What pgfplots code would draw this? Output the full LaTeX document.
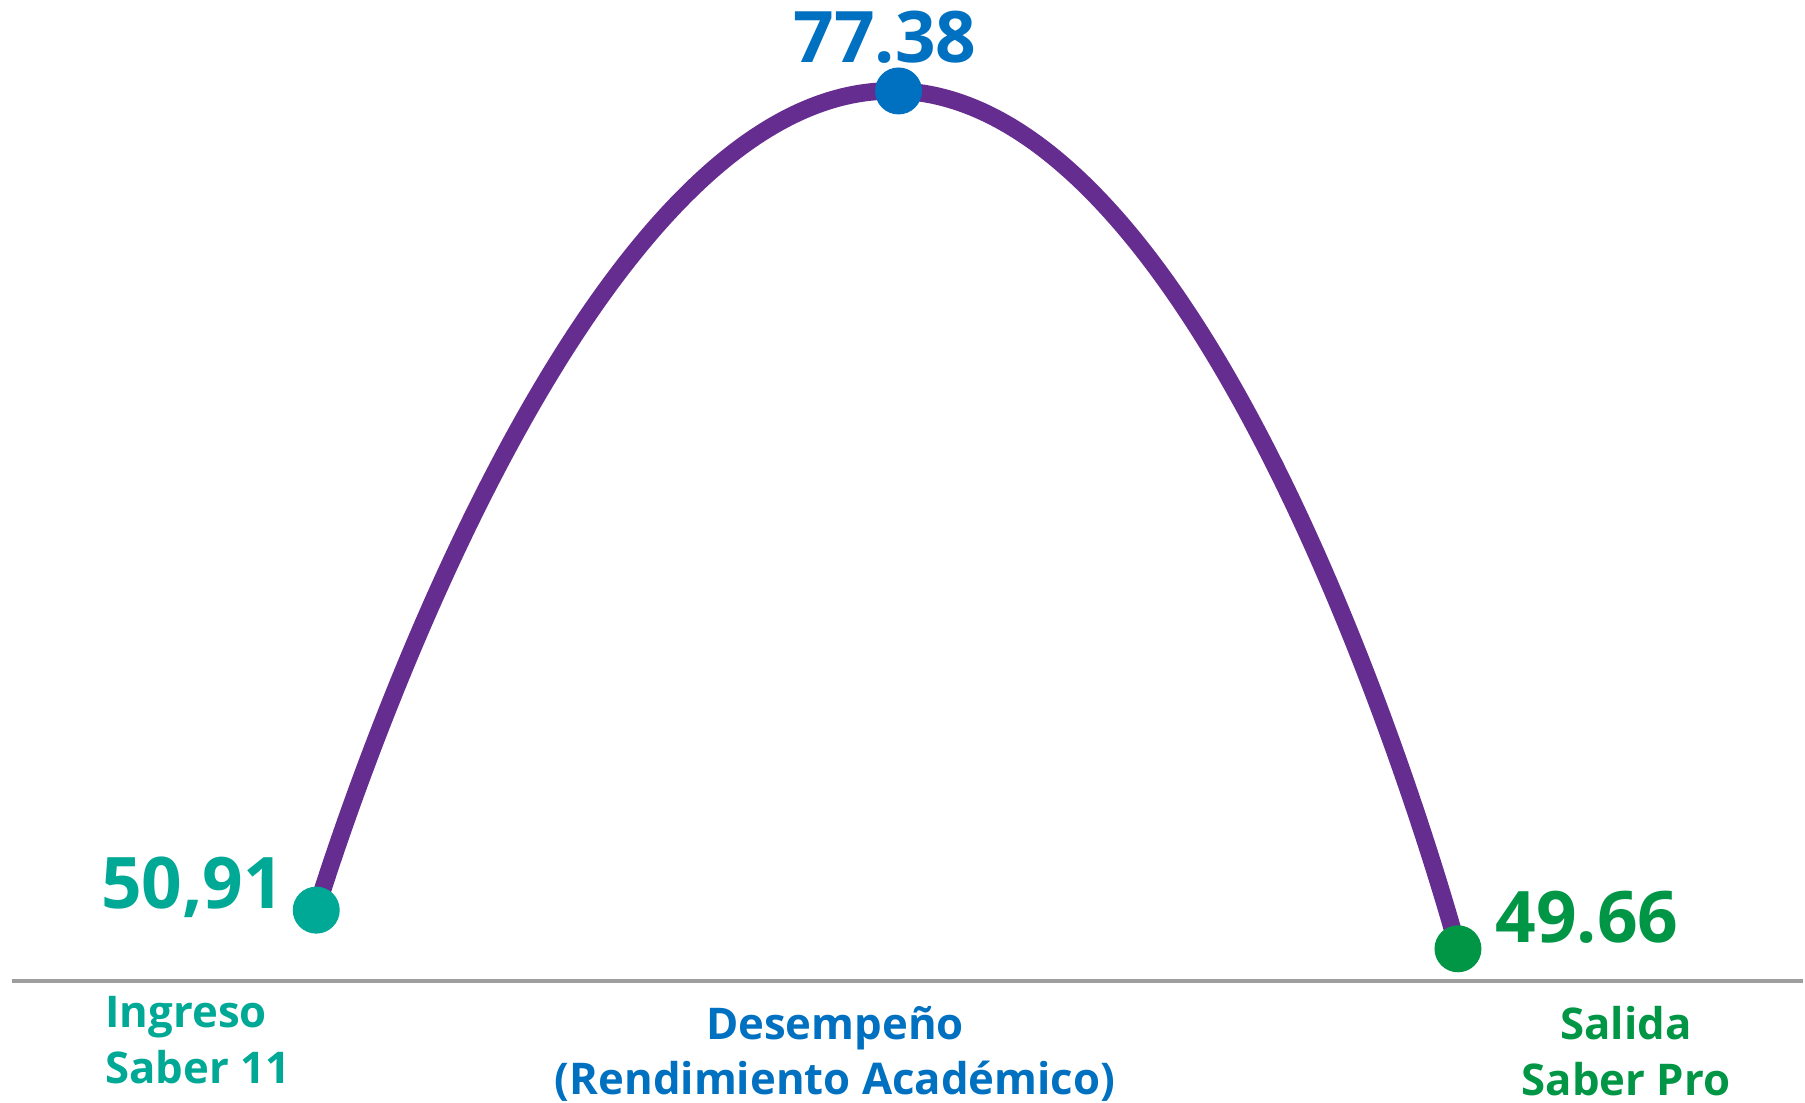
\documentclass[border=0pt]{standalone}
\usepackage{pgfplots}
\pgfplotsset{compat=1.18}
\usepackage{fontspec}
\setmainfont{Open Sans}
\definecolor{cteal}{RGB}{0,168,150}
\definecolor{cblue}{RGB}{0,112,192}
\definecolor{cgreen}{RGB}{0,150,70}
\definecolor{cpurple}{RGB}{102,45,145}
\definecolor{cline}{RGB}{158,158,158}
\begin{document}
\begin{tikzpicture}
\begin{axis}[
    width=722pt, height=441.6pt, scale only axis,
    xmin=-0.554, xmax=2.604, ymin=44.69, ymax=80.32,
    axis lines=none, ticks=none, clip=false,
    axis background/.style={fill=white},
  ]
  % baseline
  \draw[cline, line width=1.8pt] (rel axis cs:0.0064,0.1105) -- (rel axis cs:1,0.1105);
  % curve through the three scores
  \addplot[smooth, tension=1.05, no marks, draw=cpurple, line width=7pt]
    coordinates {(0,50.91) (1.02,77.38) (2,49.66)};
  \addplot[only marks, mark=*, mark size=9.2pt, cteal, mark options={draw=none}]
    coordinates {(0,50.91)};
  \addplot[only marks, mark=*, mark size=9.2pt, cblue, mark options={draw=none}]
    coordinates {(1.02,77.38)};
  \addplot[only marks, mark=*, mark size=9.2pt, cgreen, mark options={draw=none}]
    coordinates {(2,49.66)};
  % value labels
  \node[anchor=base east, inner sep=0, text=cteal, font=\fontsize{28.5}{28.5}\selectfont\bfseries]
    at (rel axis cs:0.1579,0.1757) {50,91};
  \node[anchor=base, inner sep=0, text=cblue, font=\fontsize{28.5}{28.5}\selectfont\bfseries]
    at (rel axis cs:0.4909,0.9429) {77.38};
  \node[anchor=base west, inner sep=0, text=cgreen, font=\fontsize{28.5}{28.5}\selectfont\bfseries]
    at (rel axis cs:0.8294,0.1449) {49.66};
  % category labels
  \node[anchor=north west, inner sep=0, align=left, text=cteal, font=\fontsize{17.5}{22.3}\selectfont\bfseries]
    at (rel axis cs:0.0582,0.0969) {Ingreso\\Saber 11};
  \node[anchor=north, inner sep=0, align=center, text=cblue, font=\fontsize{17.5}{22.3}\selectfont\bfseries]
    at (rel axis cs:0.4632,0.0879) {Desempeño\\(Rendimiento Académico)};
  \node[anchor=north, inner sep=0, align=center, text=cgreen, font=\fontsize{17.5}{22.3}\selectfont\bfseries]
    at (rel axis cs:0.9019,0.0879) {Salida\\Saber Pro};
\end{axis}
\end{tikzpicture}
\end{document}
